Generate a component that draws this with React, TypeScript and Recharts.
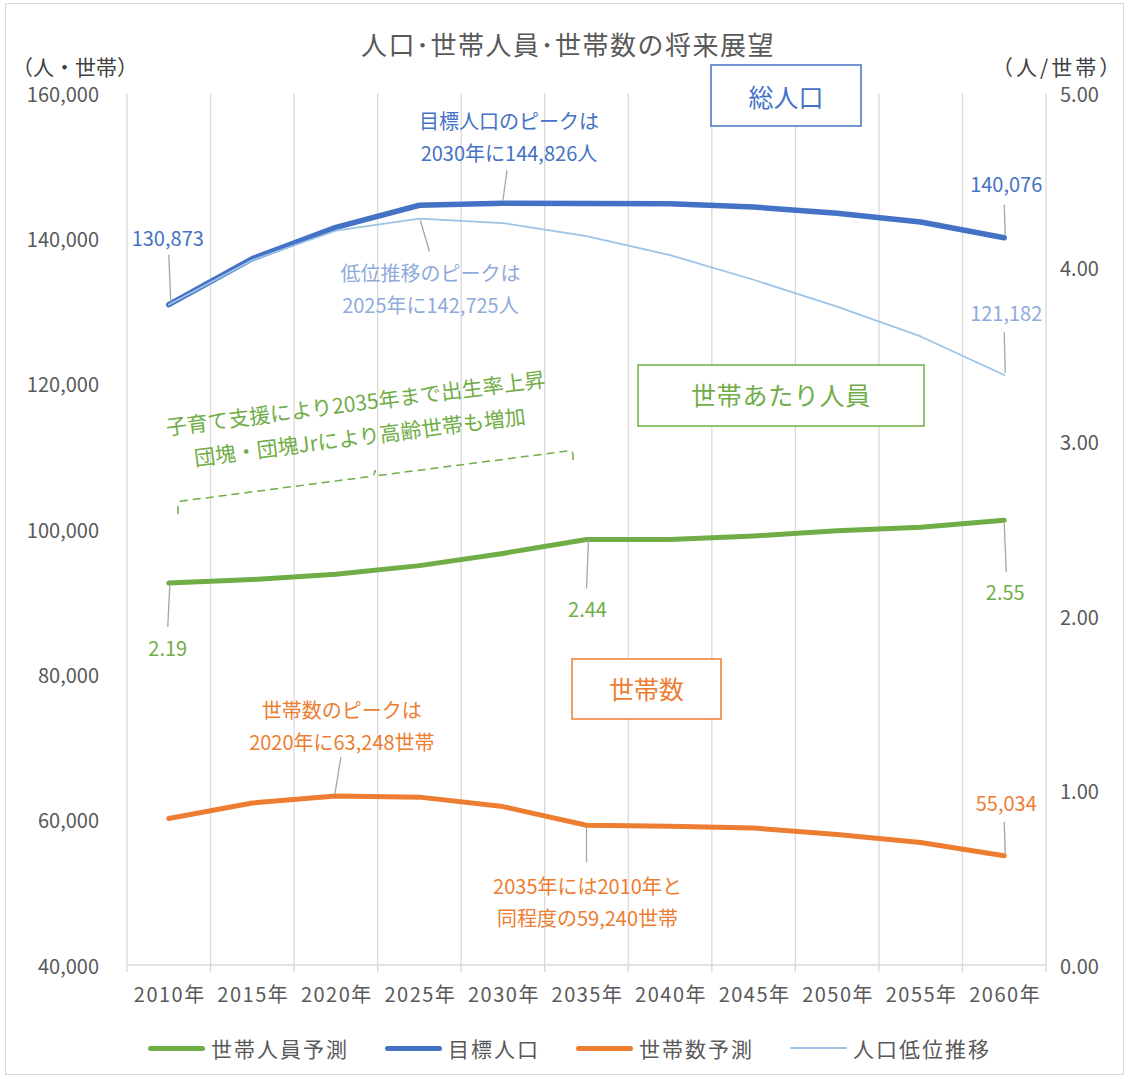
import { CartesianGrid, LabelList, Line, LineChart, XAxis, YAxis } from 'recharts'

const FONT = '"Noto Sans CJK JP", "Noto Sans", sans-serif'

const YEARS = ['2010年', '2015年', '2020年', '2025年', '2030年', '2035年', '2040年', '2045年', '2050年', '2055年', '2060年']
const HOUSEHOLD_SIZE = [2.19, 2.21, 2.24, 2.29, 2.36, 2.44, 2.44, 2.46, 2.49, 2.51, 2.55]
const TARGET_POP = [130873, 137200, 141500, 144550, 144826, 144800, 144750, 144300, 143450, 142250, 140076]
const HOUSEHOLDS = [60150, 62300, 63248, 63100, 61800, 59240, 59100, 58850, 57950, 56850, 55034]
const LOW_POP = [130873, 137000, 141050, 142725, 142100, 140300, 137700, 134300, 130600, 126500, 121182]
const LEFT_TICKS = [40000, 60000, 80000, 100000, 120000, 140000, 160000]
const RIGHT_TICKS = [0, 1, 2, 3, 4, 5]

const COLORS = {
  size: '#70AD47',
  target: '#4472C4',
  households: '#ED7D31',
  low: '#9DC3E6',
  lowText: '#8FAADC',
  axis: '#595959',
  grid: '#D9D9D9',
  leader: '#A6A6A6',
}

const data = YEARS.map((year, i) => ({
  year,
  size: HOUSEHOLD_SIZE[i],
  target: TARGET_POP[i],
  households: HOUSEHOLDS[i],
  low: LOW_POP[i],
}))

interface Callout {
  index: number
  lines?: string[]
  dx: number
  dy: number
  lead: [number, number, number, number]
}

const TARGET_LABELS: Callout[] = [
  { index: 0, dx: -1, dy: -67, lead: [0, -50, 2, -3] },
  { index: 4, lines: ['目標人口のピークは', '2030年に144,826人'], dx: 6, dy: -83, lead: [4, -33, 0, -3] },
  { index: 10, dx: 2, dy: -54, lead: [0, -33, 1, -3] },
]
const LOW_LABELS: Callout[] = [
  { index: 3, lines: ['低位推移のピークは', '2025年に142,725人'], dx: 11, dy: 54, lead: [1, 2, 10, 33] },
  { index: 10, dx: 2, dy: -63, lead: [0, -43, 1, -2] },
]
const SIZE_LABELS: Callout[] = [
  { index: 0, dx: -1, dy: 64, lead: [1, 2, -1, 44] },
  { index: 5, dx: 1, dy: 69, lead: [2, 0, 0, 49] },
  { index: 10, dx: 1, dy: 71, lead: [0, 3, 2, 52] },
]
const HOUSEHOLD_LABELS: Callout[] = [
  { index: 2, lines: ['世帯数のピークは', '2020年に63,248世帯'], dx: 6, dy: -87, lead: [5, -39, -1, -2] },
  { index: 5, lines: ['2035年には2010年と', '同程度の59,240世帯'], dx: 1, dy: 60, lead: [0, 2, 0, 37] },
  { index: 10, dx: 2, dy: -53, lead: [0, -34, 1, -2] },
]

function makeCallout(specs: Callout[], color: string, format: (v: number) => string) {
  return function CalloutLabel(props: any) {
    const spec = specs.find((s) => s.index === props.index)
    if (!spec) return null
    const vb = props.viewBox ?? {}
    const px = Number(props.x ?? vb.x)
    const py = Number(props.y ?? vb.y)
    if (!Number.isFinite(px) || !Number.isFinite(py)) return null
    const lines = spec.lines ?? [format(Number(props.value))]
    const [lx1, ly1, lx2, ly2] = spec.lead
    return (
      <g>
        <line x1={px + lx1} y1={py + ly1} x2={px + lx2} y2={py + ly2} stroke={COLORS.leader} strokeWidth={1.3} />
        {lines.map((t, i) => (
          <text
            key={i}
            x={px + spec.dx}
            y={py + spec.dy + i * 32}
            textAnchor="middle"
            dominantBaseline="central"
            fontSize={20}
            fontFamily={FONT}
            fill={color}
          >
            {t}
          </text>
        ))}
      </g>
    )
  }
}

const fmtInt = (v: number) => new Intl.NumberFormat('en-US').format(Math.round(v))
const fmt2 = (v: number) => v.toFixed(2)

function XTick({ x, y, payload }: any) {
  return (
    <text x={x + 1} y={y + 37} textAnchor="middle" fontSize={20} fontFamily={FONT} fill={COLORS.axis} letterSpacing={1.5}>
      {payload.value}
    </text>
  )
}

function LeftTick({ x, y, payload }: any) {
  return (
    <text x={x - 28} y={y} textAnchor="end" dominantBaseline="central" fontSize={20} fontFamily={FONT} fill={COLORS.axis}>
      {fmtInt(payload.value)}
    </text>
  )
}

function RightTick({ x, y, payload }: any) {
  return (
    <text x={x + 14} y={y} textAnchor="start" dominantBaseline="central" fontSize={20} fontFamily={FONT} fill={COLORS.axis}>
      {fmt2(payload.value)}
    </text>
  )
}

// grid lines sit on the category boundaries, not on the tick centres
function boundaryLines(props: any): number[] {
  const off = props?.offset ?? { left: 127, width: 919 }
  return YEARS.map((_, i) => off.left + (i * off.width) / YEARS.length).concat(off.left + off.width)
}

function GridLine(props: any) {
  return <line key={props.key} x1={props.x1} y1={props.y1} x2={props.x2} y2={props.y2 + 7} stroke={COLORS.grid} strokeWidth={1.3} />
}

const LEGEND = [
  { name: '世帯人員予測', color: COLORS.size, w: 5 },
  { name: '目標人口', color: COLORS.target, w: 5 },
  { name: '世帯数予測', color: COLORS.households, w: 5 },
  { name: '人口低位推移', color: COLORS.low, w: 2 },
]

// half a category band on each side, so points sit in the middle of each band
const HALF_BAND = 919 / YEARS.length / 2

export default function App() {
  return (
    <div style={{ position: 'absolute', left: 0, top: 0, width: 1129, height: 1079, background: '#fff', fontFamily: FONT }}>
      <LineChart width={1129} height={1079} data={data} margin={{ top: 93, right: 0, bottom: 0, left: 0 }}>
        <CartesianGrid
          horizontal={false}
          vertical={GridLine}
          verticalCoordinatesGenerator={boundaryLines}
          stroke={COLORS.grid}
        />
        <XAxis
          dataKey="year"
          height={114}
          interval={0}
          padding={{ left: HALF_BAND, right: HALF_BAND }}
          tickLine={false}
          tickSize={0}
          tickMargin={0}
          axisLine={{ stroke: COLORS.grid, strokeWidth: 1.5 }}
          tick={<XTick />}
        />
        <YAxis
          yAxisId="left"
          orientation="left"
          width={127}
          domain={[40000, 160000]}
          ticks={LEFT_TICKS}
          axisLine={false}
          tickLine={false}
          tickSize={0}
          tickMargin={0}
          tick={<LeftTick />}
        />
        <YAxis
          yAxisId="right"
          orientation="right"
          width={83}
          domain={[0, 5]}
          ticks={RIGHT_TICKS}
          axisLine={false}
          tickLine={false}
          tickSize={0}
          tickMargin={0}
          tick={<RightTick />}
        />
        <Line
          yAxisId="right"
          dataKey="size"
          type="linear"
          stroke={COLORS.size}
          strokeWidth={5}
          strokeLinecap="round"
          strokeLinejoin="round"
          dot={false}
          isAnimationActive={false}
        >
          <LabelList dataKey="size" content={makeCallout(SIZE_LABELS, COLORS.size, fmt2)} />
        </Line>
        <Line
          yAxisId="left"
          dataKey="target"
          type="linear"
          stroke={COLORS.target}
          strokeWidth={5.5}
          strokeLinecap="round"
          strokeLinejoin="round"
          dot={false}
          isAnimationActive={false}
        >
          <LabelList dataKey="target" content={makeCallout(TARGET_LABELS, COLORS.target, fmtInt)} />
        </Line>
        <Line
          yAxisId="left"
          dataKey="households"
          type="linear"
          stroke={COLORS.households}
          strokeWidth={5}
          strokeLinecap="round"
          strokeLinejoin="round"
          dot={false}
          isAnimationActive={false}
        >
          <LabelList dataKey="households" content={makeCallout(HOUSEHOLD_LABELS, COLORS.households, fmtInt)} />
        </Line>
        <Line
          yAxisId="left"
          dataKey="low"
          type="linear"
          stroke={COLORS.low}
          strokeWidth={1.75}
          strokeLinecap="round"
          strokeLinejoin="round"
          dot={false}
          isAnimationActive={false}
        >
          <LabelList dataKey="low" content={makeCallout(LOW_LABELS, COLORS.lowText, fmtInt)} />
        </Line>
      </LineChart>

      <svg width={1129} height={1079} style={{ position: 'absolute', left: 0, top: 0, pointerEvents: 'none' }}>
        <rect x={5.5} y={3.5} width={1118} height={1071} fill="none" stroke={COLORS.grid} strokeWidth={1} />
        <text x={568} y={43} textAnchor="middle" dominantBaseline="central" fontSize={26} letterSpacing={1.5} fontFamily={FONT} fill={COLORS.axis}>
          人口･世帯人員･世帯数の将来展望
        </text>
        <text x={12} y={66} dominantBaseline="central" fontSize={21} fontFamily={FONT} fill="#404040">
          （人・世帯）
        </text>
        <text x={992} y={66} dominantBaseline="central" fontSize={21} letterSpacing={3} fontFamily={FONT} fill="#404040">
          （人/世帯）
        </text>

        <rect x={711} y={65} width={150} height={61} fill="#fff" stroke={COLORS.target} strokeWidth={1.5} />
        <text x={786} y={96} textAnchor="middle" dominantBaseline="central" fontSize={25} fontFamily={FONT} fill={COLORS.target}>
          総人口
        </text>
        <rect x={638} y={365} width={286} height={61} fill="#fff" stroke={COLORS.size} strokeWidth={1.5} />
        <text x={781} y={394} textAnchor="middle" dominantBaseline="central" fontSize={25} letterSpacing={0.7} fontFamily={FONT} fill={COLORS.size}>
          世帯あたり人員
        </text>
        <rect x={572} y={659} width={149} height={60} fill="#fff" stroke={COLORS.households} strokeWidth={1.5} />
        <text x={646.5} y={688} textAnchor="middle" dominantBaseline="central" fontSize={25} fontFamily={FONT} fill={COLORS.households}>
          世帯数
        </text>

        <g transform="translate(357.5,419) rotate(-7.3)">
          <text x={0} y={-17} textAnchor="middle" dominantBaseline="central" fontSize={21} fontFamily={FONT} fill={COLORS.size}>
            子育て支援により2035年まで出生率上昇
          </text>
          <text x={0} y={17} textAnchor="middle" dominantBaseline="central" fontSize={21} fontFamily={FONT} fill={COLORS.size}>
            団塊・団塊Jrにより高齢世帯も増加
          </text>
        </g>
        <path
          d="M178,514 L178,505 Q178,501.5 182,501 L370,476.5 Q375,476 375,470 Q375,476 380,475.3 L568,451 Q573,450.5 573,455 L573,463"
          fill="none"
          stroke={COLORS.size}
          strokeWidth={1.5}
          strokeDasharray="8 5"
        />
      </svg>

      <div
        style={{
          position: 'absolute',
          left: 148,
          top: 1033,
          height: 30,
          display: 'flex',
          alignItems: 'center',
          gap: 36,
          color: COLORS.axis,
          fontSize: 21,
          letterSpacing: 2,
          whiteSpace: 'nowrap',
        }}
      >
        {LEGEND.map((item) => (
          <div key={item.name} style={{ display: 'flex', alignItems: 'center' }}>
            <span
              style={{
                display: 'inline-block',
                width: 57,
                height: item.w,
                borderRadius: 3,
                background: item.color,
                marginRight: 6,
              }}
            />
            <span style={{ lineHeight: '30px' }}>{item.name}</span>
          </div>
        ))}
      </div>
    </div>
  )
}
